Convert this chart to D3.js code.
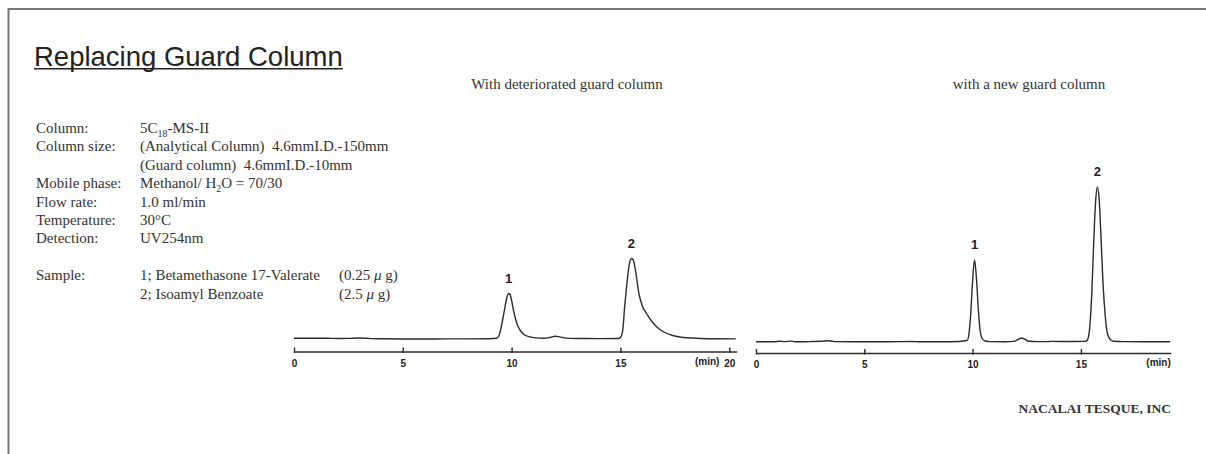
<!DOCTYPE html>
<html><head><meta charset="utf-8">
<script src="https://cdn.jsdelivr.net/npm/d3@7"></script>
<style>body{margin:0;background:#fff}svg{display:block}</style>
</head><body><svg id="c" width="1206" height="454"></svg>
<script>
const title = "Replacing Guard Column";
const panelTitles = ["With deteriorated guard column", "with a new guard column"];
const infoLabels = ["Column:", "Column size:", "", "Mobile phase:", "Flow rate:", "Temperature:", "Detection:", "", "Sample:", ""];
const infoValues = [
  [["5C"], ["18", "sub"], ["-MS-II"]],
  [["(Analytical Column)\u00a0\u00a04.6mmI.D.-150mm"]],
  [["(Guard column)\u00a0\u00a04.6mmI.D.-10mm"]],
  [["Methanol/ H"], ["2", "sub"], ["O = 70/30"]],
  [["1.0 ml/min"]],
  [["30°C"]],
  [["UV254nm"]],
  [],
  [["1; Betamethasone 17-Valerate"]],
  [["2; Isoamyl Benzoate"]]
];
const sampleAmounts = [["(0.25 ", "μ", " g)"], ["(2.5 ", "μ", " g)"]];
const footer = "NACALAI TESQUE, INC";

const xTicks1 = [0, 5, 10, 15, 20];
const xTicks2 = [0, 5, 10, 15];
const unitLabel = "(min)";

// retention time (min), detector signal (arbitrary units)
const trace1 = [[0,13.2],[0.5,13.3],[1,13.2],[1.5,13.3],[2,13.0],[2.5,13.1],[3,13.5],[3.3,13.3],[3.6,12.9],[4,12.7],[5,12.5],[6,12.5],[7,12.6],[8,12.6],[9,12.8],[9.3,13.2],[9.4,15],[9.5,22],[9.6,33],[9.7,45],[9.78,54],[9.86,58],[9.93,57],[10.0,51],[10.1,40],[10.2,31],[10.3,25],[10.45,19.5],[10.6,16.5],[10.8,14.8],[11.1,13.6],[11.5,13.2],[11.8,14.3],[12.0,15.2],[12.2,14.6],[12.5,13.4],[13,13],[14,12.9],[14.9,13],[15.0,14],[15.1,20],[15.2,46],[15.3,68],[15.4,86],[15.5,93],[15.58,92],[15.7,80],[15.85,58],[16.0,46],[16.2,38],[16.45,30],[16.7,24],[17.0,19.5],[17.4,16],[17.8,14.2],[18.5,13.3],[19.3,12.8],[20.3,12.6]];
const trace2 = [[0,11.3],[0.8,11.3],[1.1,11.8],[1.3,11.4],[1.6,11.9],[1.8,11.3],[2.2,11.2],[2.6,11.5],[3.0,11.7],[3.3,12.2],[3.5,11.8],[3.7,11.4],[4.5,11.3],[6,11.3],[7.2,11.5],[7.5,11.3],[9,11.3],[9.75,12.5],[9.83,19],[9.91,38],[10.0,72],[10.09,93],[10.18,74],[10.27,42],[10.35,22],[10.44,14.5],[10.58,12],[10.8,11.4],[11.5,11.3],[11.9,11.6],[12.1,13.5],[12.26,15],[12.4,13.8],[12.6,11.8],[13,11.4],[13.5,11.4],[13.6,11.6],[14.5,11.5],[15.2,11.6],[15.3,13],[15.4,24],[15.5,58],[15.6,115],[15.68,152],[15.76,166],[15.84,154],[15.93,115],[16.02,70],[16.12,38],[16.22,20],[16.35,13.5],[16.5,11.8],[17,11.4],[18,11.3],[19.12,11.3]];
const peaks1 = [{label: "1", t: 9.86, s: 58}, {label: "2", t: 15.5, s: 93}];
const peaks2 = [{label: "1", t: 10.09, s: 93}, {label: "2", t: 15.76, s: 166}];

const svg = d3.select("#c");
const ink = "#2b2b2b";
const serif = "'Liberation Serif','Times New Roman',serif";
const sans = "'Liberation Sans',Arial,sans-serif";

// frame
svg.append("path").attr("d", "M8.5,454 V9 H1206").attr("fill", "none").attr("stroke", "#777").attr("stroke-width", 2);

// title
const t = svg.append("text").attr("x", 34).attr("y", 65.5).attr("font-family", sans).attr("font-size", 27.5).attr("fill", "#222").text(title);
const bb = t.node().getBBox();
svg.append("line").attr("x1", bb.x).attr("x2", bb.x + bb.width).attr("y1", 68.8).attr("y2", 68.8).attr("stroke", "#222").attr("stroke-width", 1.6);

// panel titles
svg.append("text").attr("x", 567).attr("y", 88.5).attr("text-anchor", "middle").attr("font-family", serif).attr("font-size", 15).attr("fill", "#333").text(panelTitles[0]);
svg.append("text").attr("x", 1029).attr("y", 88.5).attr("text-anchor", "middle").attr("font-family", serif).attr("font-size", 15).attr("fill", "#333").text(panelTitles[1]);

// info block
const rowY = d3.scaleLinear().domain([0, 1]).range([133, 151.4]);
const info = svg.append("g").attr("font-family", serif).attr("font-size", 15).attr("fill", "#333");
infoLabels.forEach((lab, i) => {
  if (lab) info.append("text").attr("x", 36).attr("y", rowY(i)).text(lab);
  const parts = infoValues[i];
  if (parts.length) {
    const tx = info.append("text").attr("x", 140).attr("y", rowY(i));
    parts.forEach(p => {
      const ts = tx.append("tspan").text(p[0]);
      if (p[1] === "sub") { ts.attr("font-size", 10).attr("dy", 4); }
      else if (tx.selectAll("tspan").size() > 1) { ts.attr("dy", -4); }
    });
  }
});
sampleAmounts.forEach((a, k) => {
  const tx = info.append("text").attr("x", 339).attr("y", rowY(8 + k));
  tx.append("tspan").text(a[0]);
  tx.append("tspan").attr("font-style", "italic").text(a[1]);
  tx.append("tspan").text(a[2]);
});

// chromatogram panels
function panel(cfg) {
  const x = d3.scaleLinear().domain([0, cfg.tMax]).range([cfg.x0, cfg.x0 + cfg.tMax * cfg.pxPerMin]);
  const y = d3.scaleLinear().domain([0, 180]).range([cfg.axisY, cfg.axisY - 180]);
  const g = svg.append("g");
  const ax = g.append("g").attr("transform", `translate(0,${cfg.axisY})`)
    .call(d3.axisBottom(x).tickValues(cfg.ticks).tickFormat(d3.format("d")).tickSizeOuter(0).tickSizeInner(4).tickPadding(4));
  ax.select(".domain").attr("stroke", ink).attr("stroke-width", 1.6);
  ax.selectAll(".tick line").attr("y1", -4).attr("y2", 1.5).attr("stroke", ink).attr("stroke-width", 1.4);
  ax.selectAll(".tick text").attr("font-family", sans).attr("font-weight", "bold").attr("font-size", 10).attr("fill", "#222");
  g.append("text").attr("x", x(cfg.unitAt)).attr("y", cfg.axisY + 13).attr("text-anchor", "end")
    .attr("font-family", sans).attr("font-weight", "bold").attr("font-size", 10).attr("fill", "#222").text(unitLabel);
  const line = d3.line().x(d => x(d[0])).y(d => y(d[1])).curve(d3.curveMonotoneX);
  g.append("path").datum(cfg.trace).attr("d", line).attr("fill", "none").attr("stroke", ink).attr("stroke-width", 1.4).attr("stroke-linejoin", "round");
  g.selectAll(".pk").data(cfg.peaks).join("text")
    .attr("x", d => x(d.t)).attr("y", d => y(d.s) - 11).attr("text-anchor", "middle")
    .attr("font-family", sans).attr("font-weight", "bold").attr("font-size", 13).attr("fill", "#222").text(d => d.label);
}
panel({x0: 294, pxPerMin: 21.76, tMax: 20.35, axisY: 351.5, ticks: xTicks1, trace: trace1, peaks: peaks1, unitAt: 19.55});
panel({x0: 756, pxPerMin: 21.66, tMax: 19.15, axisY: 353, ticks: xTicks2, trace: trace2, peaks: peaks2, unitAt: 19.15});

// footer
svg.append("text").attr("x", 1171).attr("y", 413).attr("text-anchor", "end").attr("font-family", serif).attr("font-weight", "bold").attr("font-size", 13.5).attr("fill", "#333").text(footer);
</script>
</body></html>
